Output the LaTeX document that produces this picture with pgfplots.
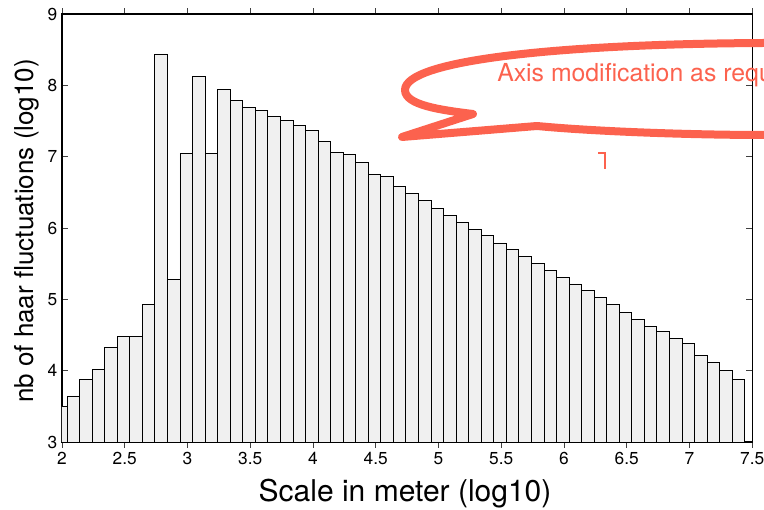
\documentclass[border=0pt]{standalone}
\usepackage{fontspec}
\setmainfont{TeX Gyre Heros}
\usepackage{pgfplots}
\pgfplotsset{compat=1.18}
\definecolor{barfill}{RGB}{240,240,240}
\definecolor{callout}{RGB}{252,98,78}

\begin{document}
\begin{tikzpicture}[x=0.75pt, y=0.75pt]
% picture frame in pixels of the 764x510 reference
\useasboundingbox (0,0) rectangle (764,510);
\clip (0,0) rectangle (764,510);

\begin{axis}[
  at={(46.5pt,51pt)}, anchor=south west,
  scale only axis,
  width=517.7pt, height=321pt,
  xmin=2, xmax=7.5, ymin=3, ymax=9,
  xtick={2,2.5,...,7.5},
  ytick={3,4,5,6,7,8,9},
  axis line style={black, line width=0.9pt},
  tick style={black!75, line width=0.6pt},
  major tick length=4.5pt,
  tick align=inside,
  xticklabel style={font=\fontsize{13}{15}\selectfont},
  yticklabel style={font=\fontsize{13}{15}\selectfont},
  /pgf/number format/assume math mode=true,
  xticklabel={\pgfmathprintnumber[fixed]{\tick}},
  xlabel={Scale in meter (log10)},
  ylabel={nb of haar fluctuations (log10)},
  xlabel style={font=\fontsize{22.5}{26}\selectfont, at={(axis description cs:0.497,-0.1395)}, anchor=base},
  ylabel style={font=\fontsize{19.5}{23}\selectfont, at={(axis description cs:-0.042,0.493)}, anchor=base},
  ybar, bar width=0.1,
]
\addplot[draw=black, fill=barfill, line width=0.6pt] coordinates {
(1.99,3.50) (2.09,3.645) (2.19,3.88) (2.29,4.02) (2.39,4.33)
(2.49,4.48) (2.59,4.48) (2.69,4.93) (2.79,8.44) (2.89,5.285)
(2.99,7.05) (3.09,8.13) (3.19,7.05) (3.29,7.94) (3.39,7.79)
(3.49,7.69) (3.59,7.645) (3.69,7.56) (3.79,7.51) (3.89,7.44)
(3.99,7.37) (4.09,7.21) (4.19,7.06) (4.29,7.03) (4.39,6.92)
(4.49,6.75) (4.59,6.72) (4.69,6.58) (4.79,6.49) (4.89,6.39)
(4.99,6.27) (5.09,6.17) (5.19,6.08) (5.29,5.98) (5.39,5.89)
(5.49,5.79) (5.59,5.70) (5.69,5.60) (5.79,5.505) (5.89,5.41)
(5.99,5.31) (6.09,5.215) (6.19,5.12) (6.29,5.03) (6.39,4.93)
(6.49,4.81) (6.59,4.715) (6.69,4.615) (6.79,4.545) (6.89,4.45)
(6.99,4.38) (7.09,4.21) (7.19,4.12) (7.29,4.00) (7.39,3.88)
};
\end{axis}

% speech bubble annotation, cut by the right edge
\draw[callout, line width=6pt, line join=round]
  (800,467) -- (764,467)
  .. controls (560,466) and (405,450) .. (405,420)
  .. controls (405,405) and (440,400) .. (473,396)
  -- (402,373) -- (537,384)
  .. controls (600,378) and (700,375) .. (764,375) -- (800,375);
\node[callout, anchor=base west, inner sep=0pt, font=\fontsize{18.6}{22}\selectfont]
  at (497,428) {Axis modification as requested};
\draw[callout, line width=1pt] (598,357) -- (605,357) -- (605,341);
\end{tikzpicture}
\end{document}
